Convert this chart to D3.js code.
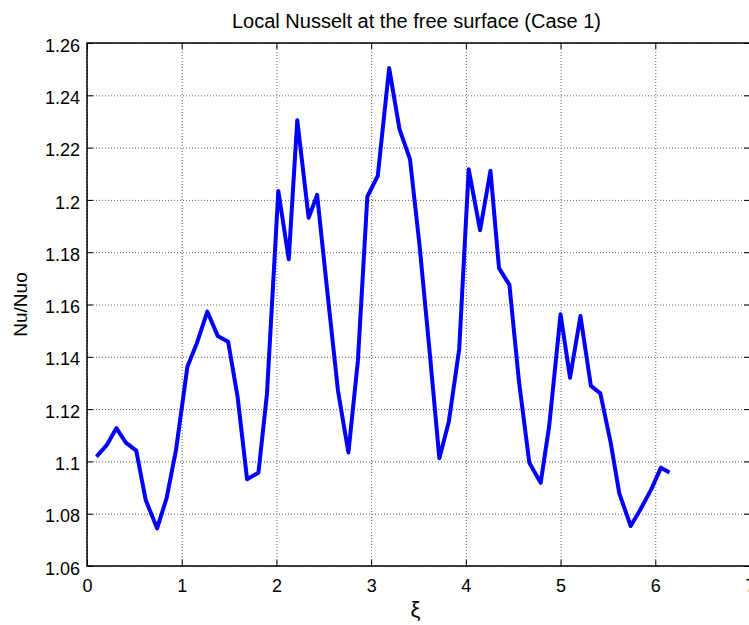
<!DOCTYPE html>
<html>
<head>
<meta charset="utf-8">
<script src="https://cdn.jsdelivr.net/npm/d3@7"></script>
<style>
  body { margin: 0; background: #fff; }
  svg { display: block; font-family: "Liberation Sans", Arial, sans-serif; }
  .grid line { stroke: #666; stroke-width: 1; stroke-dasharray: 1,2; }
  .grid path { display: none; }
  .ticks text { font-size: 18px; fill: #000; }
  .ticks line { stroke: #000; stroke-width: 1; }
  .ticks path { display: none; }
</style>
</head>
<body>
<div id="chart"></div>
<script>
// values
const xi = [0.10, 0.21, 0.31, 0.41, 0.52, 0.62, 0.74, 0.84, 0.94, 1.06,
            1.16, 1.27, 1.38, 1.49, 1.59, 1.69, 1.81, 1.90, 2.02, 2.13,
            2.22, 2.34, 2.43, 2.54, 2.65, 2.76, 2.86, 2.96, 3.07, 3.19,
            3.30, 3.41, 3.51, 3.62, 3.72, 3.82, 3.93, 4.03, 4.15, 4.26,
            4.35, 4.46, 4.56, 4.67, 4.79, 4.88, 5.00, 5.10, 5.21, 5.32,
            5.42, 5.53, 5.62, 5.74, 5.84, 5.96, 6.06, 6.15];
const nuRatio = [1.1018, 1.1063, 1.1127, 1.1072, 1.1041, 1.0852, 1.0744, 1.0859, 1.1044, 1.1362,
                 1.1452, 1.1573, 1.1480, 1.1458, 1.1247, 1.0932, 1.0957, 1.1258, 1.2034, 1.1773,
                 1.2305, 1.1932, 1.2019, 1.1640, 1.1270, 1.1034, 1.1384, 1.2013, 1.2092, 1.2504,
                 1.2270, 1.2156, 1.1830, 1.1410, 1.1012, 1.1152, 1.1430, 1.2117, 1.1884, 1.2111,
                 1.1739, 1.1675, 1.1308, 1.0995, 1.0918, 1.1136, 1.1563, 1.1320, 1.1556, 1.1289,
                 1.1260, 1.1070, 1.0878, 1.0753, 1.0814, 1.0895, 1.0976, 1.0958];
const xTicks = [0, 1, 2, 3, 4, 5, 6, 7];
const yTicks = [1.06, 1.08, 1.1, 1.12, 1.14, 1.16, 1.18, 1.2, 1.22, 1.24, 1.26];

const margin = { top: 43, right: -1, bottom: 59, left: 87 },
      width = 663,
      height = 523;

const svg = d3.select("#chart")
  .append("svg")
  .attr("width", width + margin.left + margin.right)
  .attr("height", height + margin.top + margin.bottom)
  .append("g")
  .attr("transform", `translate(${margin.left},${margin.top})`);

const x = d3.scaleLinear().domain([0, 7]).range([0, width]);
const y = d3.scaleLinear().domain([1.06, 1.26]).range([height, 0]);

// dotted grid
svg.append("g")
  .attr("class", "grid")
  .attr("transform", `translate(0,${height})`)
  .call(d3.axisBottom(x).tickValues(xTicks).tickSize(-height).tickFormat(""));
svg.append("g")
  .attr("class", "grid")
  .call(d3.axisLeft(y).tickValues(yTicks).tickSize(-width).tickFormat(""));

// ticks on all four sides, pointing inward
svg.append("g")
  .attr("class", "ticks")
  .attr("transform", `translate(0,${height})`)
  .call(d3.axisBottom(x).tickValues(xTicks).tickSize(-6).tickPadding(13).tickFormat(d => String(d)));
svg.append("g")
  .attr("class", "ticks")
  .call(d3.axisLeft(y).tickValues(yTicks).tickSize(-6).tickPadding(7).tickFormat(d => String(d)))
  .selectAll("text")
  .attr("dy", "0.45em");
svg.append("g")
  .attr("class", "ticks")
  .call(d3.axisTop(x).tickValues(xTicks).tickSize(-6).tickFormat(""));
svg.append("g")
  .attr("class", "ticks")
  .attr("transform", `translate(${width},0)`)
  .call(d3.axisRight(y).tickValues(yTicks).tickSize(-6).tickFormat(""));

// axes box
svg.append("rect")
  .attr("width", width)
  .attr("height", height)
  .attr("fill", "none")
  .attr("stroke", "#000")
  .attr("stroke-width", 1.5);

// data line
const points = xi.map((d, i) => ({ x: d, v: nuRatio[i] }));
svg.append("path")
  .datum(points)
  .attr("fill", "none")
  .attr("stroke", "#0000ff")
  .attr("stroke-width", 4)
  .attr("stroke-linejoin", "round")
  .attr("d", d3.line().x(d => x(d.x)).y(d => y(d.v)));

// title and labels
svg.append("text")
  .attr("x", width / 2 - 2)
  .attr("y", -15)
  .attr("text-anchor", "middle")
  .style("font-size", "20px")
  .text("Local Nusselt at the free surface (Case 1)");

svg.append("text")
  .attr("transform", `translate(${27 - margin.left},${height / 2}) rotate(-90)`)
  .attr("text-anchor", "middle")
  .style("font-size", "19px")
  .text("Nu/Nuo");

svg.append("text")
  .attr("x", width / 2 - 3)
  .attr("y", height + 51)
  .attr("text-anchor", "middle")
  .style("font-size", "22px")
  .text("ξ");
</script>
</body>
</html>
